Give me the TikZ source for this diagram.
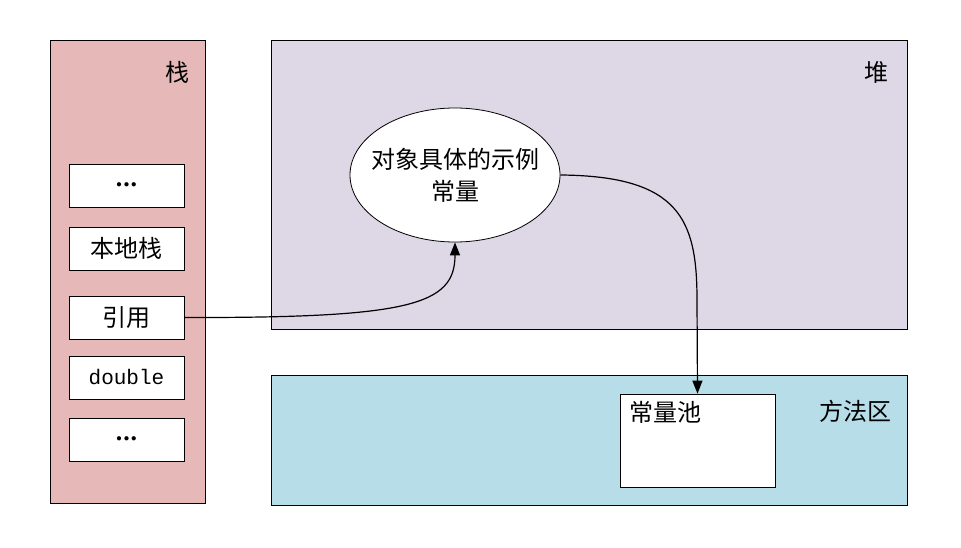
\documentclass[tikz,border=0pt]{standalone}
\usepackage{fontspec}
\usepackage{tikz}
\usetikzlibrary{arrows.meta,shapes.geometric}
\newfontfamily\cjk{Noto Sans CJK SC}
\setmonofont{Liberation Mono}
\definecolor{stackred}{HTML}{E6B9B8}
\definecolor{heappurple}{HTML}{DDD7E6}
\definecolor{methodblue}{HTML}{B7DDE8}
\newcommand{\bigdots}{{\fontsize{11}{11}\selectfont${\bullet}\hspace{2pt}{\bullet}\hspace{2pt}{\bullet}$}}
\tikzset{
  area/.style={draw,rectangle,line width=0.7pt,inner sep=0pt},
  slot/.style={draw,rectangle,fill=white,line width=0.7pt,minimum width=115pt,minimum height=43pt,inner sep=0pt,font=\cjk\fontsize{24}{28}\selectfont},
  lbl/.style={inner sep=0pt,font=\cjk\fontsize{24}{28}\selectfont},
  link/.style={line width=1.2pt,-{Triangle[length=13pt,width=10pt]}}
}

\begin{document}
\begin{tikzpicture}[x=1pt,y=-1pt]
\useasboundingbox (0,0) rectangle (961,548);
\node (stack) [area,fill=stackred,minimum width=155pt,minimum height=463pt] at (127.5,271.5) {};
\node (heap) [area,fill=heappurple,minimum width=636pt,minimum height=289pt] at (589,184.5) {};
\node (method) [area,fill=methodblue,minimum width=636pt,minimum height=130pt] at (589,440) {};
\node (stacklbl) [lbl] at (177,72) {栈};
\node (heaplbl) [lbl] at (876,72) {堆};
\node (methodlbl) [lbl] at (855,411) {方法区};
\node (dots1) [slot] at (126.5,185.5) {\bigdots};
\node (native) [slot] at (126.5,248.5) {本地栈};
\node (ref) [slot] at (126.5,317.5) {引用};
\node (dbl) [slot,font=\ttfamily\fontsize{21}{24}\selectfont] at (126.5,377.5) {double};
\node (dots2) [slot] at (126.5,439.5) {\bigdots};
\node (obj) [draw,ellipse,fill=white,line width=0.8pt,minimum width=210pt,minimum height=134pt,inner sep=-30pt,align=center,font=\cjk\fontsize{24}{32}\selectfont] at (455,175) {对象具体的示例\\常量};
\node (pool) [draw,rectangle,fill=white,line width=0.7pt,minimum width=155pt,minimum height=93pt,inner sep=0pt] at (697.5,440.5) {};
\node (poollbl) [lbl] at (665,412) {常量池};
\draw [link] (ref.east) .. controls (410,318) and (455,305) .. (obj.south);
\draw [link] (obj.east) .. controls (680,176) and (697,220) .. (697,300) -- (pool.north);
\end{tikzpicture}
\end{document}
